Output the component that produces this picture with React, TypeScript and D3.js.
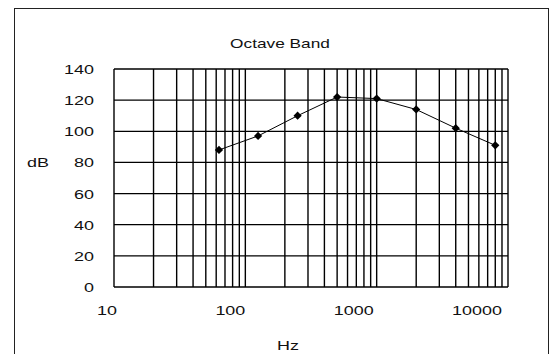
import React from 'react';
import * as d3 from 'd3';

// octave band centre frequencies and levels
const freqs = [63, 125, 250, 500, 1000, 2000, 4000, 8000];
const levels = [88, 97, 110, 122, 121, 114, 102, 91];
const yTicks = [0, 20, 40, 60, 80, 100, 120, 140];
const xTicks = [10, 100, 1000, 10000];

const W = 558;
const H = 354;
const margin = { top: 69, right: 50, bottom: 67, left: 114 };
const font = 'Arial, "Liberation Sans", sans-serif';
const stretch = 1.33; // the scanned labels are wider than normal glyphs

const App = () => {
  const x = d3.scaleLog().domain([10, 10000]).range([margin.left, W - margin.right]);
  const y = d3.scaleLinear().domain([0, 140]).range([H - margin.bottom, margin.top]);

  // every log grid line: 10,20..90,100,200..
  const gridX: number[] = [];
  for (let d = 10; d < 10000; d *= 10) {
    for (let k = 1; k <= 9; k++) gridX.push(d * k);
  }
  gridX.push(10000);

  const line = d3
    .line<number>()
    .x((_, i) => x(freqs[i]))
    .y((d) => y(d));

  const marker = d3.symbol(d3.symbolSquare, 34)() || '';

  const label = (tx: number, ty: number, text: string, anchor: string, size = 13.5) => (
    <text
      key={text + tx + ty}
      transform={`translate(${tx},${ty}) scale(${stretch},1)`}
      textAnchor={anchor}
      fontSize={size}
      fontFamily={font}
      fill="#111"
    >
      {text}
    </text>
  );

  return (
    <div style={{ position: 'fixed', left: 0, top: 0 }}>
      <svg width={W} height={H} style={{ display: 'block', background: '#fff' }}>
        <rect x={14.5} y={8.5} width={534} height={400} fill="none" stroke="#222" strokeWidth={1} />

        {label(280, 48, 'Octave Band', 'middle', 13)}

        {/* grid */}
        {gridX.map((f) => (
          <line key={'gx' + f} x1={x(f)} x2={x(f)} y1={y(140)} y2={y(0)} stroke="#000" strokeWidth={1.4} />
        ))}
        {yTicks.map((t) => (
          <line key={'gy' + t} x1={x(10)} x2={x(10000)} y1={y(t)} y2={y(t)} stroke="#000" strokeWidth={1.3} />
        ))}

        {/* axis labels */}
        {yTicks.map((t) => label(94, y(t) + 5, String(t), 'end'))}
        {xTicks.map((t, i) => label(x(t) + 3 - 3 * i, 315, String(t), 'end'))}
        {label(27, y(80) + 5, 'dB', 'start')}
        {label(288, 350, 'Hz', 'middle')}

        {/* series */}
        <path d={line(levels) || ''} fill="none" stroke="#000" strokeWidth={1} />
        {levels.map((v, i) => (
          <path
            key={'m' + i}
            d={marker}
            transform={`translate(${x(freqs[i])},${y(v)}) rotate(45)`}
            fill="#000"
          />
        ))}
      </svg>
    </div>
  );
};

export default App;
